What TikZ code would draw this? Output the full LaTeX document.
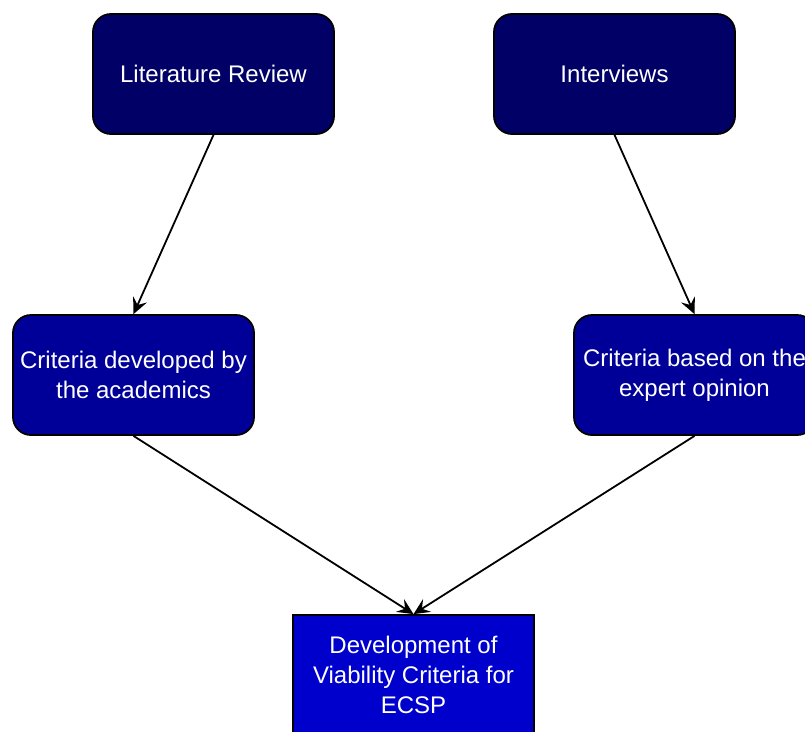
\documentclass[tikz,border=0pt]{standalone}
\usepackage{fontspec}
\setmainfont{Liberation Sans}
\usetikzlibrary{arrows.meta}

\definecolor{navytop}{HTML}{000066}
\definecolor{navymid}{HTML}{000099}
\definecolor{navylow}{HTML}{0000CC}

\begin{document}
\begin{tikzpicture}[x=1pt, y=-1pt,
    box/.style={draw=black, line width=1.8pt, minimum width=241pt, minimum height=120pt,
        text=white, align=center, inner sep=0pt,
        font=\fontsize{24}{30}\selectfont},
    roundbox/.style={box, rounded corners=18pt},
    link/.style={line width=1.8pt, -{Stealth[length=16pt, width=15pt, inset=6pt]}}]

    \clip (0,0) rectangle (805,731);
    \useasboundingbox (0,0) rectangle (805,731);

    % Sources
    \node[roundbox, fill=navytop] (litreview) at (213.5,74) {Literature Review};
    \node[roundbox, fill=navytop] (interviews) at (614.5,74) {Interviews};

    % Criteria from each source
    \node[roundbox, fill=navymid] (academics) at (133.5,375) {Criteria developed by\\the academics};
    \node[roundbox, fill=navymid] (experts) at (694.5,375) {Criteria based on the\\expert opinion};

    % Final step
    \node[box, fill=navylow] (viability) at (413.5,675) {Development of\\Viability Criteria for\\ECSP};

    \draw[link] (litreview.south) -- (academics.north);
    \draw[link] (interviews.south) -- (experts.north);
    \draw[link] (academics.south) -- (viability.north);
    \draw[link] (experts.south) -- (viability.north);

\end{tikzpicture}
\end{document}
